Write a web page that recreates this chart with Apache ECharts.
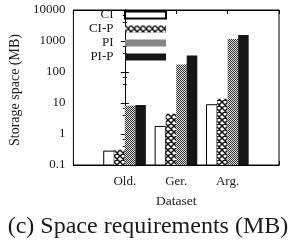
<!DOCTYPE html>
<html><head><meta charset="utf-8">
<script src="https://cdn.jsdelivr.net/npm/echarts@6/dist/echarts.min.js"></script>
<style>html,body{margin:0;padding:0;background:#fff}#c{width:290px;height:244px}</style>
</head><body><div id="c"></div>
<script>
const categories = ['Old.', 'Ger.', 'Arg.'];
const seriesNames = ['CI', 'CI-P', 'PI', 'PI-P'];
const ciValues = [0.28, 1.75, 8.8];
const ciPValues = [0.31, 4.5, 13.7];
const piValues = [8.2, 175, 1150];
const piPValues = [8.6, 340, 1550];
const yTickLabels = ['0.1', '1', '10', '100', '1000', '10000'];
const xAxisTitle = 'Dataset';
const yAxisTitle = 'Storage space (MB)';
const caption = '(c) Space requirements (MB)';

const FONT = '"Liberation Serif", "Times New Roman", serif';
const TXT = '#1a1a1a';

function makePattern(kind) {
  const c = document.createElement('canvas');
  const ctx = c.getContext('2d');
  if (kind === 'cross') {
    c.width = 6; c.height = 6;
    ctx.fillStyle = '#fff'; ctx.fillRect(0, 0, 6, 6);
    ctx.strokeStyle = '#111'; ctx.lineWidth = 1.5;
    ctx.beginPath();
    for (const o of [-6, 0, 6]) {
      ctx.moveTo(o, 0); ctx.lineTo(o + 6, 6);
      ctx.moveTo(o + 6, 0); ctx.lineTo(o, 6);
    }
    ctx.stroke();
  } else if (kind === 'dots') {
    c.width = 2; c.height = 2;
    ctx.fillStyle = '#dedede'; ctx.fillRect(0, 0, 2, 2);
    ctx.fillStyle = '#333'; ctx.fillRect(0, 0, 1, 1); ctx.fillRect(1, 1, 1, 1);
  }
  return { image: c, repeat: 'repeat' };
}

const fills = ['#ffffff', makePattern('cross'), makePattern('dots'), '#161616'];
const allValues = [ciValues, ciPValues, piValues, piPValues];
const BAR_W = 0.205;
const Y_MIN = 0.1, Y_MAX = 10000;

function makeRender(idx) {
  return function (params, api) {
    const x = api.value(0), v = api.value(1);
    const base = api.coord([x, Y_MIN]);
    const top = api.coord([x, v]);
    const unit = api.coord([x + 1, v])[0] - top[0];
    const w = unit * BAR_W;
    const left = top[0] + (idx - 1.5) * w - w / 2;
    return {
      type: 'rect',
      shape: { x: left, y: top[1], width: w, height: base[1] - top[1] },
      style: { fill: fills[idx], stroke: idx === 0 ? '#000' : null, lineWidth: idx === 0 ? 1 : 0 }
    };
  };
}

const series = seriesNames.map((name, i) => ({
  name: name,
  type: 'custom',
  renderItem: makeRender(i),
  itemStyle: { color: fills[i], borderColor: '#000', borderWidth: i === 0 ? 1 : 0 },
  encode: { x: 0, y: 1 },
  data: allValues[i].map((v, j) => [j, v]),
  clip: true
}));

const tickStyle = { color: '#000', width: 1 };
const chart = echarts.init(document.getElementById('c'), null, { renderer: 'canvas' });
chart.setOption({
  animation: false,
  backgroundColor: '#fff',
  grid: { left: 70, right: 11, top: 10, bottom: 79, show: true, borderColor: '#000', borderWidth: 1 },
  legend: {
    data: seriesNames, orient: 'vertical', align: 'right', right: 123, top: 8.5,
    itemWidth: 41, itemHeight: 7, itemGap: 1, padding: 0, icon: 'rect',
    formatter: name => name + '  ',
    textStyle: { fontFamily: FONT, fontSize: 13, color: TXT, lineHeight: 13 }
  },
  xAxis: [{
    type: 'value', min: -1, max: 3, interval: 1, position: 'bottom',
    axisLine: { lineStyle: tickStyle },
    axisTick: { inside: true, length: 4, lineStyle: tickStyle },
    axisLabel: { formatter: v => categories[v] || '', margin: 10, fontFamily: FONT, fontSize: 13, color: TXT },
    splitLine: { show: false },
    name: xAxisTitle, nameLocation: 'middle', nameGap: 29.5,
    nameTextStyle: { fontFamily: FONT, fontSize: 13.5, color: TXT }
  }, {
    type: 'value', min: -1, max: 3, interval: 1, position: 'top',
    axisLine: { lineStyle: tickStyle },
    axisTick: { inside: true, length: 4, lineStyle: tickStyle },
    axisLabel: { show: false }, splitLine: { show: false }
  }],
  yAxis: [{
    type: 'log', logBase: 10, min: Y_MIN, max: Y_MAX, position: 'left',
    axisLine: { show: true, lineStyle: tickStyle },
    axisTick: { show: true, inside: true, length: 4, lineStyle: tickStyle },
    minorTick: { show: true, splitNumber: 3, length: 2, lineStyle: tickStyle },
    axisLabel: {
      formatter: v => yTickLabels[Math.round(Math.log10(v)) + 1] || '',
      margin: 8, fontFamily: FONT, fontSize: 13, color: TXT
    },
    splitLine: { show: false },
    name: yAxisTitle, nameLocation: 'middle', nameGap: 47, nameRotate: 90,
    nameTextStyle: { fontFamily: FONT, fontSize: 14, color: TXT, padding: [0, 5, 0, 0] }
  }, {
    type: 'log', logBase: 10, min: Y_MIN, max: Y_MAX, position: 'right',
    axisLine: { show: true, lineStyle: tickStyle },
    axisTick: { show: true, inside: true, length: 4, lineStyle: tickStyle },
    minorTick: { show: true, splitNumber: 3, length: 2, lineStyle: tickStyle },
    axisLabel: { show: false }, splitLine: { show: false }
  }],
  graphic: [{
    type: 'text', x: 148, y: 215,
    style: { text: caption, fontFamily: FONT, fontSize: 24, fill: TXT, align: 'center', verticalAlign: 'top' }
  }],
  series: series
});
</script></body></html>
